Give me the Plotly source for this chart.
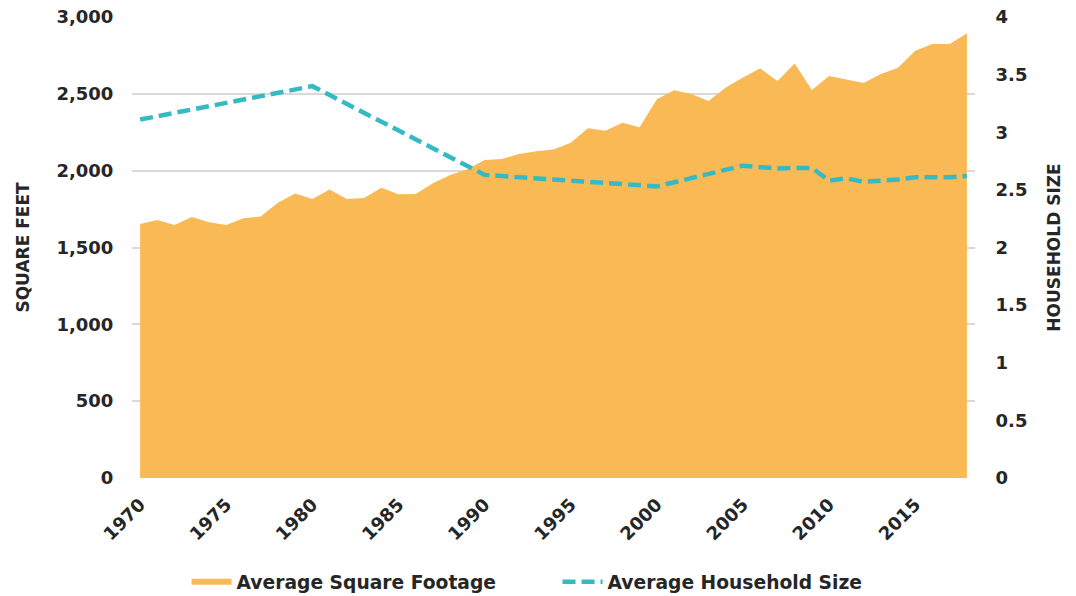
import plotly.graph_objects as go

# average new home size, square feet (1970-2018)
years = list(range(1970, 2019))
sq_feet = [1653, 1679, 1646, 1698, 1664, 1646, 1690, 1701, 1791, 1852,
           1815, 1878, 1815, 1822, 1889, 1846, 1848, 1918, 1972, 2009,
           2069, 2076, 2108, 2126, 2137, 2182, 2276, 2260, 2312, 2282,
           2464, 2523, 2499, 2453, 2542, 2607, 2666, 2583, 2698, 2525,
           2616, 2594, 2570, 2629, 2670, 2781, 2824, 2824, 2894]

# average household size
hh_years = [1970, 1980, 1990, 2000, 2005, 2006, 2007, 2008, 2009, 2010,
            2011, 2012, 2013, 2014, 2015, 2016, 2017, 2018]
hh_size = [3.11, 3.40, 2.63, 2.53, 2.71, 2.70, 2.685, 2.69, 2.69, 2.58,
           2.60, 2.57, 2.58, 2.59, 2.61, 2.61, 2.61, 2.62]

x_ticks = list(range(1970, 2016, 5))
left_ticks = [0, 500, 1000, 1500, 2000, 2500, 3000]
right_ticks = [0, 0.5, 1, 1.5, 2, 2.5, 3, 3.5, 4]

FONT = "DejaVu Sans"
TXT = "#262626"
GRID = "#D9D9D9"

fig = go.Figure()

fig.add_trace(go.Scatter(
    x=years, y=sq_feet,
    name="Average Square Footage",
    mode="none",
    fill="tozeroy",
    fillcolor="#F9BA55",
))

fig.add_trace(go.Scatter(
    x=hh_years, y=hh_size,
    name="Average Household Size",
    mode="lines",
    line=dict(color="#35BAC3", width=4.5, dash="13px,6px"),
    yaxis="y2",
))

tick_font = dict(family=FONT, size=18, color=TXT, weight="bold")
title_font = dict(family=FONT, size=17, color=TXT, weight="bold")

fig.update_layout(
    width=1076, height=596,
    margin=dict(l=132, r=101, t=17, b=118),
    paper_bgcolor="white",
    plot_bgcolor="white",
    font=dict(family=FONT, color=TXT),
    xaxis=dict(
        range=[1969.53, 2018.47],
        tickvals=x_ticks,
        tickangle=-45,
        tickfont=tick_font,
        showgrid=False,
        zeroline=False,
        showline=False,
        ticks="outside", ticklen=8, tickcolor="rgba(0,0,0,0)",
        automargin=False,
    ),
    yaxis=dict(
        range=[0, 3000],
        tickvals=left_ticks,
        tickformat=",d",
        tickfont=tick_font,
        gridcolor=GRID,
        gridwidth=1.5,
        zeroline=False,
        ticks="outside", ticklen=14, tickcolor="rgba(0,0,0,0)",
        title=dict(text="SQUARE FEET", font=title_font, standoff=22),
        automargin=False,
    ),
    yaxis2=dict(
        range=[0, 4],
        tickvals=right_ticks,
        overlaying="y",
        side="right",
        tickfont=tick_font,
        showgrid=False,
        zeroline=False,
        ticks="outside", ticklen=16, tickcolor="rgba(0,0,0,0)",
        title=dict(text="HOUSEHOLD SIZE", font=title_font, standoff=21),
        automargin=False,
    ),
    legend=dict(
        orientation="h",
        xref="paper", x=0.0647, xanchor="left",
        yref="container", y=1 - 582 / 596, yanchor="middle",
        font=dict(family=FONT, size=18.7, color=TXT, weight="bold"),
        itemwidth=40,
        entrywidth=316,
    ),
    showlegend=True,
)

fig.write_html("out.html", config={"displayModeBar": False},
               post_script="document.body.style.margin='0';")
